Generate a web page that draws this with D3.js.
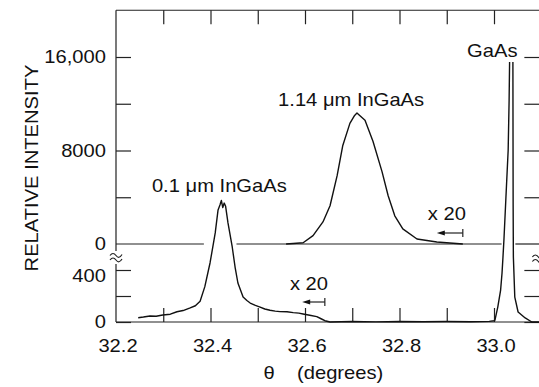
<!DOCTYPE html>
<html>
<head>
<meta charset="utf-8">
<title>X-ray rocking curve</title>
<style>
  body { margin: 0; background: #fff; }
  svg { display: block; }
  .lbl { font-family: "Liberation Sans", Arial, Helvetica, sans-serif; font-size: 18px; fill: #111; }
  .curve { fill: none; stroke: #111; stroke-width: 1.4px; stroke-linejoin: round; }
  .ax { stroke: #222; stroke-width: 1.2px; fill: none; }
</style>
</head>
<body>
<svg width="539" height="387"></svg>
<script src="https://d3js.org/d3.v7.min.js"></script>
<script>
// ---- data ----
// 1.14 um InGaAs layer (upper panel, intensity scale 0..16,000)
var thickTheta = [32.56, 32.575, 32.596, 32.617, 32.638, 32.653, 32.668, 32.680, 32.695, 32.705, 32.710, 32.714, 32.727, 32.744, 32.763, 32.776, 32.790, 32.807, 32.837, 32.879, 32.934];
var thickCounts = [0, 40, 110, 715, 1890, 3270, 5850, 8430, 10320, 11000, 11200, 11050, 10580, 8770, 6190, 4130, 2410, 1290, 430, 170, 0];

// 0.1 um InGaAs layer + GaAs substrate (lower panel, scale 0..400)
var thinTheta = [32.247, 32.258, 32.272, 32.285, 32.299, 32.315, 32.329, 32.342, 32.357, 32.368, 32.378, 32.388, 32.399, 32.410, 32.416, 32.420, 32.423, 32.426, 32.429, 32.432, 32.437, 32.446, 32.452, 32.458, 32.469, 32.477, 32.484, 32.495, 32.505, 32.515, 32.526, 32.537, 32.547, 32.562, 32.575, 32.587, 32.596, 32.610, 32.625, 32.634, 32.642, 32.653, 32.70, 32.75, 32.80, 32.85, 32.90, 32.95, 32.99, 33.000, 33.002, 33.008, 33.014, 33.017, 33.019, 33.021, 33.025, 33.030, 33.032, 33.033, 33.036, 33.040, 33.0405, 33.041, 33.044, 33.051, 33.066, 33.080, 33.096];
var thinCounts = [33, 38, 46, 44, 54, 60, 79, 88, 108, 125, 160, 272, 454, 685, 862, 900, 935, 880, 915, 890, 762, 577, 423, 300, 192, 165, 146, 128, 115, 100, 90, 84, 80, 79, 72, 68, 62, 52, 41, 25, 10, 0, 4, 1, 4, 2, 4, 2, 5, 10, 15, 115, 246, 377, 500, 631, 938, 1323, 1708, 2000, 2150, 2000, 900, 500, 192, 77, 31, 0, 0];

// axes
var xTickValues = [32.2, 32.3, 32.4, 32.5, 32.6, 32.7, 32.8, 32.9, 33.0];
var xLabelValues = [32.2, 32.4, 32.6, 32.8, 33.0];
var xTickLabels = ["32.2", "32.4", "32.6", "32.8", "33.0"];
var topTickValues = [4000, 8000, 12000, 16000];
var topLabelValues = [0, 8000, 16000];
var topTickLabels = ["0", "8000", "16,000"];
var botTickValues = [0, 200, 400];
var botLabelValues = [0, 400];
var botTickLabels = ["0", "400"];

var svg = d3.select("svg");
var stretch = 1.12;

var x = d3.scaleLinear().domain([32.2, 33.0]).range([116, 494]);
var yTop = d3.scaleLinear().domain([0, 16000]).range([244, 57]);
var yBot = d3.scaleLinear().domain([0, 400]).range([322, 270]);

var xMin = 32.2, xMax = 33.096;
var frameL = x(xMin), frameR = x(xMax), frameT = yTop(20000), frameB = yBot(0);

function text(str, px, py, anchor, extra) {
    return svg.append("text")
        .attr("class", "lbl")
        .attr("text-anchor", anchor || "start")
        .attr("transform", "translate(" + px + "," + py + ") " + (extra || "") + " scale(" + stretch + ",1)")
        .text(str);
}

// frame lines
svg.append("path").attr("class", "ax")
    .attr("d", "M" + frameL + "," + frameT + "H" + frameR);
svg.append("path").attr("class", "ax")
    .attr("d", "M" + frameL + "," + frameB + "H" + frameR);
svg.append("path").attr("class", "ax")
    .attr("d", "M" + frameL + "," + frameT + "V" + (yTop(0) + 7) + "M" + frameL + "," + (yTop(0) + 20) + "V" + frameB);

// break marks on the intensity axis
function breakMark(cx, cy) {
    svg.append("path").attr("class", "ax")
        .attr("stroke-width", 1.2)
        .attr("d", "M" + (cx - 6) + "," + (cy - 2) + "q3,-4 6,0t6,-1" +
                   "M" + (cx - 6) + "," + (cy + 2.5) + "q3,-4 6,0t6,-1");
}
breakMark(frameL, yTop(0) + 13.5);
breakMark(frameR - 1, yTop(0) + 15);

// x ticks (bottom and top)
svg.append("g")
    .attr("transform", "translate(0," + frameB + ")")
    .call(d3.axisBottom(x).tickValues(xTickValues.slice(1)).tickSize(-14).tickFormat(""))
    .call(function(g) { g.select(".domain").remove(); g.selectAll("line").attr("class", "ax"); });
svg.append("g")
    .attr("transform", "translate(0," + frameT + ")")
    .call(d3.axisTop(x).tickValues(xTickValues.slice(1)).tickSize(-14).tickFormat(""))
    .call(function(g) { g.select(".domain").remove(); g.selectAll("line").attr("class", "ax"); });

// y ticks, left and right
[[frameL, 1], [frameR, -1]].forEach(function(s) {
    var axis = s[1] > 0 ? d3.axisLeft : d3.axisRight;
    svg.append("g")
        .attr("transform", "translate(" + s[0] + ",0)")
        .call(axis(yTop).tickValues(topTickValues).tickSize(-15).tickFormat(""))
        .call(function(g) { g.select(".domain").remove(); g.selectAll("line").attr("class", "ax"); });
    svg.append("g")
        .attr("transform", "translate(" + s[0] + ",0)")
        .call(axis(yBot).tickValues(botTickValues).tickSize(-15).tickFormat(""))
        .call(function(g) { g.select(".domain").remove(); g.selectAll("line").attr("class", "ax"); });
});
svg.append("path").attr("class", "ax")
    .attr("d", "M" + (frameR - 24) + "," + yTop(0) + "H" + frameR);

// zero line of the upper panel (broken around the thin-layer peak)
var zeroSegs = [[32.2, 32.386], [32.455, 33.016]];
svg.selectAll(".zero").data(zeroSegs).enter().append("line")
    .attr("class", "ax")
    .attr("x1", function(d) { return x(d[0]); })
    .attr("x2", function(d) { return x(d[1]); })
    .attr("y1", yTop(0)).attr("y2", yTop(0));

// tick labels
xLabelValues.forEach(function(v, i) { text(xTickLabels[i], x(v) + 2, 352, "middle"); });
topLabelValues.forEach(function(v, i) { text(topTickLabels[i], 106, yTop(v) + 6, "end"); });
botLabelValues.forEach(function(v, i) { text(botTickLabels[i], 106, yBot(v) + (v > 0 ? 12 : 6), "end"); });

// axis titles
text("RELATIVE INTENSITY", 38, 168, "middle", "rotate(-90)");
text("\u03b8", 269, 379, "middle");
text("(degrees)", 297, 379, "start");

// curves
svg.append("clipPath").attr("id", "clip")
    .append("rect")
    .attr("x", frameL).attr("y", yBot(2000))
    .attr("width", frameR - frameL).attr("height", frameB - yBot(2000) + 2);

var thickLine = d3.line()
    .x(function(d, i) { return x(thickTheta[i]); })
    .y(function(d) { return yTop(d); });
var thinLine = d3.line()
    .x(function(d, i) { return x(thinTheta[i]); })
    .y(function(d) { return yBot(d); });

svg.append("path").attr("class", "curve").attr("clip-path", "url(#clip)")
    .attr("d", thinLine(thinCounts));
svg.append("path").attr("class", "curve")
    .attr("d", thickLine(thickCounts));

// peak labels
text("0.1 \u03bcm InGaAs", x(32.276), 192);
text("1.14 \u03bcm InGaAs", x(32.543), 106);
text("GaAs", x(32.943), 57);

// x 20 annotations
var marks = [
    { label: "x 20", tx: 32.860, ty: 220, a0: 32.879, a1: 32.934, ay: 233 },
    { label: "x 20", tx: 32.568, ty: 290, a0: 32.594, a1: 32.642, ay: 302 }
];
marks.forEach(function(m) {
    text(m.label, x(m.tx), m.ty);
    var x0 = x(m.a0), x1 = x(m.a1);
    svg.append("line").attr("class", "ax").attr("x1", x0 + 5).attr("x2", x1).attr("y1", m.ay).attr("y2", m.ay);
    svg.append("line").attr("class", "ax").attr("x1", x1).attr("x2", x1).attr("y1", m.ay - 4).attr("y2", m.ay + 4);
    svg.append("path").attr("fill", "#111")
        .attr("d", "M" + x0 + "," + m.ay + "l8,-2.5v5z");
});
</script>
</body>
</html>
